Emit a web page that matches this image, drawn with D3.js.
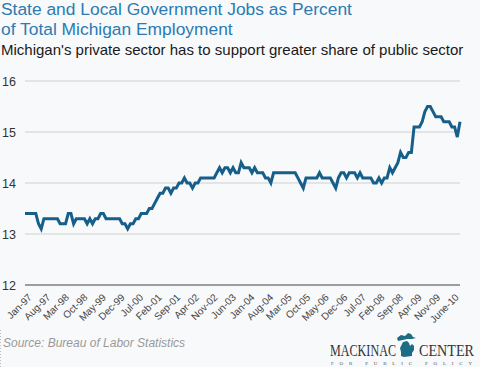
<!DOCTYPE html>
<html><head><meta charset="utf-8">
<script src="https://cdn.jsdelivr.net/npm/d3@7"></script>
<style>
html,body{margin:0;padding:0;background:#f8f9fb;}
svg{display:block;}
</style></head>
<body>
<svg id="chart" width="480" height="367"></svg>
<script>
const titleLines = ["State and Local Government Jobs as Percent", "of Total Michigan Employment"];
const subtitle = "Michigan's private sector has to support greater share of public sector";
const source = "Source: Bureau of Labor Statistics";
const values = [
 13.4,13.4,13.4,13.4,13.4,13.2,13.1,13.3,13.3,13.3,13.3,13.3,
 13.3,13.2,13.2,13.2,13.4,13.4,13.2,13.3,13.3,13.3,13.3,13.2,
 13.3,13.2,13.3,13.3,13.4,13.4,13.3,13.3,13.3,13.3,13.3,13.3,
 13.2,13.2,13.1,13.2,13.2,13.3,13.3,13.4,13.4,13.4,13.5,13.5,
 13.6,13.7,13.8,13.8,13.9,13.9,13.8,13.9,13.9,14.0,14.0,14.1,
 14.0,14.0,13.9,14.0,14.0,14.1,14.1,14.1,14.1,14.1,14.1,14.2,
 14.3,14.2,14.3,14.3,14.2,14.3,14.2,14.2,14.4,14.3,14.3,14.3,
 14.2,14.3,14.2,14.2,14.2,14.1,14.1,14.0,14.2,14.2,14.2,14.2,
 14.2,14.2,14.2,14.2,14.2,14.1,14.0,13.9,14.1,14.1,14.1,14.1,
 14.1,14.2,14.1,14.1,14.1,14.1,14.0,13.9,14.1,14.2,14.2,14.1,
 14.2,14.2,14.2,14.1,14.2,14.1,14.1,14.1,14.1,14.0,14.0,14.1,
 14.0,14.1,14.1,14.3,14.2,14.3,14.4,14.6,14.5,14.5,14.6,14.6,
 15.1,15.1,15.1,15.2,15.4,15.5,15.5,15.4,15.3,15.3,15.3,15.2,
 15.2,15.2,15.1,15.1,14.9,15.2
];
const tickLabels = ["Jan-97","Aug-97","Mar-98","Oct-98","May-99","Dec-99","Jul-00","Feb-01","Sep-01","Apr-02","Nov-02","Jun-03","Jan-04","Aug-04","Mar-05","Oct-05","May-06","Dec-06","Jul-07","Feb-08","Sep-08","Apr-09","Nov-09","June-10"];
const yTicks = [12,13,14,15,16];

const svg = d3.select("#chart");
const font = "'Liberation Sans', Arial, sans-serif";

svg.append("rect").attr("width",480).attr("height",367).attr("fill","#f8f9fb");

const x = d3.scaleLinear().domain([0, values.length-1]).range([25, 460]);
const y = d3.scaleLinear().domain([12,16]).range([285, 81]);
const xl = d3.scalePoint().domain(tickLabels).range([32, 459]);

// titles
svg.selectAll("text.title").data(titleLines).join("text")
  .attr("class","title").attr("x",1).attr("y",(d,i)=>15+i*20)
  .attr("font-family",font).attr("font-size",17.4).attr("fill","#2b7bb2").text(d=>d);
svg.append("text").attr("x",1).attr("y",55).attr("font-family",font)
  .attr("font-size",15).attr("fill","#1a1a1a").text(subtitle);

// gridlines
svg.append("g").selectAll("line").data(yTicks).join("line")
  .attr("x1",25).attr("x2",460).attr("y1",d=>y(d)).attr("y2",d=>y(d))
  .attr("stroke",d=>d===12?"#9a9ea3":"#dcdcdc").attr("stroke-width",d=>d===12?2:1.5);

// y labels
svg.append("g").selectAll("text").data(yTicks).join("text")
  .attr("x",2).attr("y",d=>y(d)+4.5).attr("text-anchor","start")
  .attr("font-family",font).attr("font-size",12.5).attr("fill","#333").text(d=>d);

// x axis labels
const xAxis = d3.axisBottom(xl).tickSize(0);
const gx = svg.append("g").attr("transform","translate(0,285)").call(xAxis);
gx.select(".domain").remove();
gx.selectAll("text").attr("font-family",font).attr("font-size",10).attr("fill","#444")
  .attr("text-anchor","end").attr("dy",0).attr("y",0)
  .attr("transform","translate(0,13) rotate(-45)");

// line
const line = d3.line().x((d,i)=>x(i)).y(d=>y(d));
svg.append("path").datum(values).attr("d",line).attr("fill","none")
  .attr("stroke","#155f8a").attr("stroke-width",3).attr("stroke-linejoin","miter");

// source
svg.append("text").attr("x",3).attr("y",347).attr("font-family",font)
  .attr("font-size",12).attr("font-style","italic").attr("fill","#999").text(source);
svg.append("line").attr("x1",0.5).attr("x2",0.5).attr("y1",330).attr("y2",367)
  .attr("stroke","#bbb").attr("stroke-dasharray","1,2");

// logo
const lg = svg.append("g");
const serif = "'Liberation Serif','DejaVu Serif',serif";
lg.append("text").attr("x",330).attr("y",356).attr("font-family",serif).attr("font-size",16)
  .attr("fill","#333").attr("textLength",66).attr("lengthAdjust","spacingAndGlyphs").text("MACKINAC");
lg.append("text").attr("x",419).attr("y",356).attr("font-family",serif).attr("font-size",16)
  .attr("fill","#333").attr("textLength",55).attr("lengthAdjust","spacingAndGlyphs").text("CENTER");
lg.append("text").attr("x",331).attr("y",365).attr("font-family",serif).attr("font-size",5)
  .attr("fill","#555").attr("textLength",141).attr("lengthAdjust","spacing").text("FOR PUBLIC POLICY");
// mitten
lg.append("path").attr("fill","#1e6b86")
  .attr("d","M397,338 L401,335 L405,336 L408,333 L411,334 L413,337 L416,338 L412,339 L407,339 L403,340 L398,341 Z M403,342 L407,341 L409,343 L410,346 L412,344 L414,346 L414,350 L412,353 L412,356 L404,357 L401,356 L401,352 L400,348 Z");
</script>
</body></html>
